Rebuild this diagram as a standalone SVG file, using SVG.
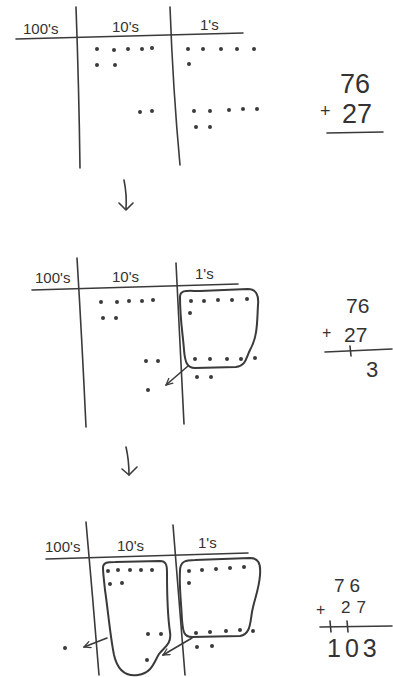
<svg xmlns="http://www.w3.org/2000/svg" width="393" height="677" viewBox="0 0 393 677">
<defs>
<style>
.ln{fill:none;stroke:#3a3a3a;stroke-width:1.6;stroke-linecap:round;stroke-linejoin:round}
.loop{fill:none;stroke:#3a3a3a;stroke-width:2;stroke-linecap:round;stroke-linejoin:round}
.hd{font-family:"Liberation Sans","DejaVu Sans",sans-serif;font-size:15px;fill:#333}
.num{font-family:"Liberation Sans","DejaVu Sans",sans-serif;fill:#333}
.d circle{fill:#3a3a3a;r:2px}
</style>
<marker id="ah" viewBox="0 0 10 10" refX="9" refY="5" markerWidth="8" markerHeight="8" markerUnits="userSpaceOnUse" orient="auto">
<path d="M1,1 L9,5 L1,9" fill="none" stroke="#3a3a3a" stroke-width="1.6" stroke-linecap="round"/>
</marker>
</defs>
<rect width="393" height="677" fill="#fff"/>

<!-- Panel 1 -->
<g id="panel1-chart">
<path class="ln" d="M16,39 L243,33"/>
<path class="ln" d="M76,7 Q79,90 80,168"/>
<path class="ln" d="M170,7 Q173,90 180,165"/>
<text class="hd" x="23" y="34">100's</text>
<text class="hd" x="112" y="32">10's</text>
<text class="hd" x="200" y="30">1's</text>
<g class="d">
<circle cx="97" cy="49" r="2"/><circle cx="114" cy="50" r="2"/><circle cx="128" cy="49" r="2"/><circle cx="142" cy="49" r="2"/><circle cx="152" cy="48" r="2"/>
<circle cx="97" cy="65" r="2"/><circle cx="115" cy="65" r="2"/>
<circle cx="140" cy="112" r="2"/><circle cx="152" cy="111" r="2"/>
<circle cx="188" cy="49" r="2"/><circle cx="203" cy="49" r="2"/><circle cx="221" cy="49" r="2"/><circle cx="237" cy="49" r="2"/><circle cx="254" cy="49" r="2"/>
<circle cx="189" cy="64" r="2"/>
<circle cx="194" cy="111" r="2"/><circle cx="210" cy="111" r="2"/><circle cx="229" cy="110" r="2"/><circle cx="243" cy="109" r="2"/><circle cx="257" cy="109" r="2"/>
<circle cx="196" cy="127" r="2"/><circle cx="210" cy="127" r="2"/>
</g>
</g>
<g id="panel1-sum">
<text class="num" x="340" y="93" font-size="27">76</text>
<text class="num" x="320" y="117" font-size="18">+</text>
<text class="num" x="342" y="123" font-size="27">27</text>
<path class="ln" d="M327,133 L383,132"/>
</g>

<!-- Panel 2 -->
<g id="panel2-chart">
<path class="ln" d="M32,290 L238,284"/>
<path class="ln" d="M77,258 Q82,340 86,427"/>
<path class="ln" d="M176,263 Q180,340 184,424"/>
<text class="hd" x="35" y="283">100's</text>
<text class="hd" x="112" y="282">10's</text>
<text class="hd" x="195" y="279">1's</text>
<g class="d">
<circle cx="101" cy="302" r="2"/><circle cx="117" cy="302" r="2"/><circle cx="129" cy="301" r="2"/><circle cx="142" cy="301" r="2"/><circle cx="153" cy="300" r="2"/>
<circle cx="103" cy="318" r="2"/><circle cx="116" cy="318" r="2"/>
<circle cx="146" cy="361" r="2"/><circle cx="158" cy="361" r="2"/>
<circle cx="148" cy="390" r="2.2"/>
<circle cx="191" cy="301" r="2"/><circle cx="204" cy="301" r="2"/><circle cx="218" cy="300" r="2"/><circle cx="232" cy="300" r="2"/><circle cx="247" cy="299" r="2"/>
<circle cx="190" cy="313" r="2"/>
<circle cx="195" cy="359" r="2"/><circle cx="210" cy="359" r="2"/><circle cx="227" cy="359" r="2"/><circle cx="241" cy="359" r="2"/><circle cx="255" cy="358" r="2"/>
<circle cx="197" cy="377" r="2"/><circle cx="211" cy="377" r="2"/>
</g>
<path class="loop" d="M180,297 C180,289 188,291 200,291 L248,289 C256,289 259,295 258,305 C257,320 258,336 250,350 C246,358 246,366 236,367 L195,368 C187,368 185,362 184,350 C183,335 180,320 180,297 Z"/>
</g>
<g id="panel2-sum">
<text class="num" x="346" y="313" font-size="21">76</text>
<text class="num" x="322" y="338" font-size="16">+</text>
<text class="num" x="344" y="342" font-size="21">27</text>
<path class="ln" d="M325,352 L392,349"/>
<path class="ln" d="M350,346 L351,356"/>
<text class="num" x="366" y="377" font-size="22">3</text>
</g>

<!-- Panel 3 -->
<g id="panel3-chart">
<path class="ln" d="M46,559 L248,553"/>
<path class="ln" d="M86,522 Q93,600 99,675"/>
<path class="ln" d="M173,525 Q179,600 185,675"/>
<text class="hd" x="45" y="552">100's</text>
<text class="hd" x="117" y="551">10's</text>
<text class="hd" x="198" y="548">1's</text>
<g class="d">
<circle cx="65" cy="648" r="2.2"/>
<circle cx="108" cy="571" r="2"/><circle cx="118" cy="570" r="2"/><circle cx="130" cy="570" r="2"/><circle cx="141" cy="570" r="2"/><circle cx="152" cy="570" r="2"/>
<circle cx="110" cy="584" r="2"/><circle cx="122" cy="583" r="2"/>
<circle cx="148" cy="634" r="2"/><circle cx="161" cy="634" r="2"/>
<circle cx="147" cy="660" r="2.2"/>
<circle cx="189" cy="571" r="2"/><circle cx="202" cy="570" r="2"/><circle cx="216" cy="569" r="2"/><circle cx="230" cy="568" r="2"/><circle cx="244" cy="567" r="2"/>
<circle cx="189" cy="583" r="2"/>
<circle cx="196" cy="633" r="2"/><circle cx="210" cy="632" r="2"/><circle cx="226" cy="631" r="2"/><circle cx="240" cy="630" r="2"/><circle cx="253" cy="631" r="2"/>
<circle cx="197" cy="647" r="2"/><circle cx="212" cy="646" r="2"/>
</g>
<path class="loop" d="M103,568 C103,562 108,562 115,562 L160,561 C166,561 167,565 167,572 C167,590 167,612 170,632 C172,645 163,648 159,654 C154,662 152,673 138,675 C124,677 117,668 114,655 C110,635 108,610 105,590 C104,580 103,573 103,568 Z"/>
<path class="loop" d="M180,571 C180,561 186,560 195,560 L250,558 C258,558 261,563 260,575 C259,590 254,600 252,612 C250,625 250,634 240,636 L192,637 C184,637 183,632 182,620 C181,600 179,585 180,571 Z"/>
</g>
<g id="panel3-sum">
<text class="num" x="334" y="592" font-size="19" letter-spacing="5">76</text>
<text class="num" x="316" y="615" font-size="16">+</text>
<text class="num" x="341" y="613" font-size="17" letter-spacing="6">27</text>
<path class="ln" d="M320,627 L392,626"/>
<path class="ln" d="M330,621 L331,632"/>
<path class="ln" d="M347,621 L348,632"/>
<text class="num" x="327" y="657" font-size="25" letter-spacing="4">103</text>
</g>

<!-- Connectors -->
<g id="connectors">
<path class="ln" d="M124,180 Q127,195 126,209"/>
<path class="ln" d="M119,203 L126,210 L133,203"/>
<path class="ln" d="M126,447 Q129,460 129,475"/>
<path class="ln" d="M122,469 L129,475 L137,467"/>
<path class="ln" d="M188,366 L166,385" marker-end="url(#ah)"/>
<path class="ln" d="M107,638 L84,647" marker-end="url(#ah)"/>
<path class="ln" d="M192,638 L163,655" marker-end="url(#ah)"/>
</g>
</svg>
